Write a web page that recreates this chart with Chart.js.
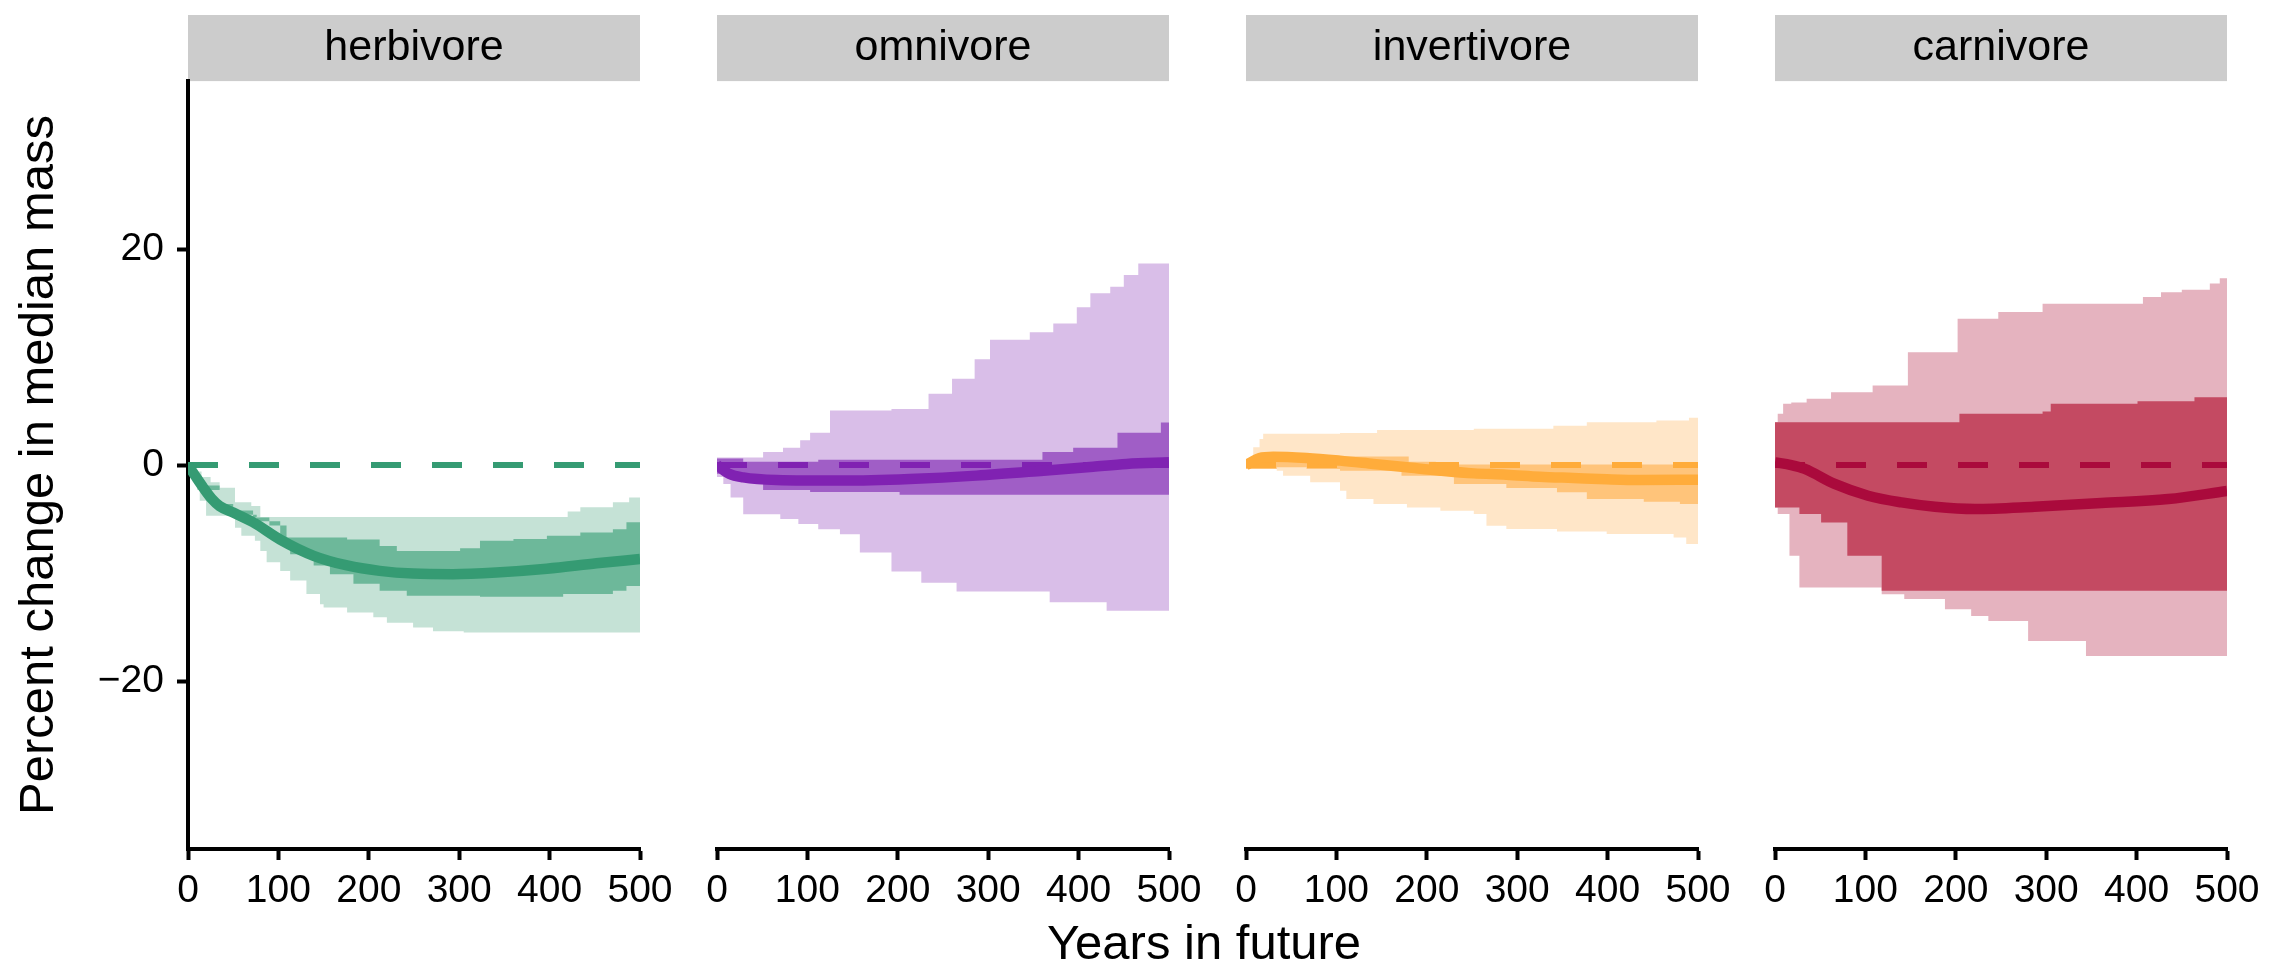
<!DOCTYPE html>
<html>
<head>
<meta charset="utf-8">
<script src="https://cdn.jsdelivr.net/npm/chart.js@4.4.1/dist/chart.umd.min.js"></script>
<style>
  body { margin: 0; background: #fff; }
  #wrap { position: relative; width: 2292px; height: 979px; overflow: hidden; background: #fff; }
  canvas { position: absolute; top: 0; }
  #xtitle { position: absolute; left: 704px; width: 1000px; top: 918px; text-align: center;
            font: 49px/48px 'Liberation Sans', Arial, sans-serif; color: #000; }
</style>
</head>
<body>
<div id="wrap">
  <canvas id="c0" width="676" height="979" style="left:0px"></canvas>
  <canvas id="c1" width="524" height="979" style="left:681px"></canvas>
  <canvas id="c2" width="524" height="979" style="left:1210px"></canvas>
  <canvas id="c3" width="524" height="979" style="left:1739px"></canvas>
  <div id="xtitle">Years in future</div>
</div>
<script>
// ---------------- data (years, percent change) ----------------
const panelNames = ['herbivore', 'omnivore', 'invertivore', 'carnivore'];
const xTicks = [0, 100, 200, 300, 400, 500];
const yTicks = [-20, 0, 20];
const zeroLine = [[0, 0], [500, 0]];

// herbivore
const herbMedian = [[0,0],[8,-1.0],[17,-2.1],[26,-3.1],[35,-3.8],[50,-4.4],[72,-5.3],[102,-6.9],[139,-8.4],[176,-9.3],[212,-9.8],[249,-10.05],[293,-10.1],[341,-9.95],[397,-9.6],[452,-9.1],[500,-8.7]];
const herbInnerUp = [[0,0],[17,-1.9],[35,-3.6],[50,-4.2],[72,-4.85],[90,-5.6],[109,-6.7],[176,-6.9],[212,-7.5],[231,-7.95],[301,-7.7],[323,-7.0],[360,-6.85],[397,-6.55],[434,-6.25],[470,-5.95],[485,-5.3],[500,-5.3]];
const herbInnerLo = [[0,0],[17,-2.3],[35,-4.0],[50,-4.6],[76,-5.2],[102,-7.0],[113,-8.25],[139,-9.3],[157,-10.1],[183,-11.0],[212,-11.65],[242,-12.1],[323,-12.2],[415,-11.95],[470,-11.65],[485,-11.2],[500,-11.2]];
const herbOuterUp = [[0,0],[8,-0.6],[15,-1.1],[25,-1.6],[35,-2.1],[52,-3.45],[70,-3.8],[80,-4.8],[412,-4.8],[420,-4.3],[434,-3.9],[470,-3.45],[488,-3.0],[500,-3.0]];
const herbOuterLo = [[0,0],[5,-1.2],[10,-2.3],[13,-3.3],[20,-4.7],[52,-5.8],[59,-6.55],[74,-7.0],[80,-7.95],[87,-9.0],[102,-9.8],[113,-10.7],[131,-11.95],[146,-12.9],[150,-13.2],[176,-13.65],[205,-14.1],[220,-14.6],[249,-15.05],[271,-15.4],[305,-15.5],[500,-15.5]];

// omnivore
const omniMedian = [[0,0],[14,-0.83],[29,-1.14],[66,-1.38],[140,-1.44],[213,-1.29],[287,-0.98],[361,-0.52],[416,-0.15],[453,0.1],[500,0.25]];
const omniInnerUp = [[0,0.6],[29,0.3],[112,0.5],[360,1.2],[394,1.6],[443,3.0],[491,3.95],[500,3.95]];
const omniInnerLo = [[0,-0.8],[15,-1.2],[29,-1.5],[51,-2.3],[103,-2.5],[202,-2.75],[500,-2.75]];
const omniOuterUp = [[0,0.7],[51,1.2],[73,1.6],[92,2.3],[103,3.0],[125,5.05],[193,5.2],[234,6.6],[260,8.0],[285,9.8],[302,11.6],[346,12.3],[372,13.1],[398,14.6],[413,15.9],[435,16.5],[450,17.6],[466,18.65],[500,18.65]];
const omniOuterLo = [[0,-1.1],[7,-1.75],[15,-3.0],[29,-4.55],[70,-5.0],[90,-5.45],[112,-5.95],[136,-6.4],[158,-8.1],[193,-9.85],[226,-10.9],[265,-11.7],[368,-12.7],[431,-13.5],[500,-13.5]];

// invertivore
const invMedian = [[0,0],[15,0.66],[30,0.78],[67,0.66],[104,0.41],[141,0.1],[178,-0.21],[215,-0.52],[252,-0.77],[288,-0.89],[325,-1.08],[362,-1.2],[399,-1.32],[436,-1.39],[500,-1.35]];
const invInnerUp = [[0,0.4],[30,0.9],[100,0.8],[180,0.3],[210,0.05],[500,0.0]];
const invInnerLo = [[0,-0.36],[34,-0.21],[67,-0.36],[104,-0.52],[172,-0.98],[230,-1.75],[288,-2.13],[344,-2.53],[377,-3.15],[440,-3.4],[480,-3.6],[500,-3.6]];
const invOuterUp = [[0,0.3],[8,1.64],[15,2.42],[19,2.9],[104,2.97],[145,3.25],[252,3.35],[340,3.65],[377,3.96],[454,4.12],[490,4.37],[500,4.37]];
const invOuterLo = [[0,-0.36],[34,-0.52],[41,-0.98],[71,-1.6],[104,-2.37],[111,-3.15],[141,-3.6],[178,-3.92],[215,-4.23],[252,-4.54],[266,-5.62],[288,-5.93],[344,-6.15],[399,-6.39],[473,-6.7],[487,-7.3],[500,-7.3]];

// carnivore
const carnMedian = [[0,0.25],[18,0.0],[33,-0.36],[66,-1.75],[103,-2.84],[140,-3.46],[177,-3.86],[221,-4.07],[287,-3.86],[361,-3.52],[435,-3.15],[500,-2.4]];
const carnInnerUp = [[0,3.96],[204,4.74],[296,4.95],[305,5.67],[401,5.91],[464,6.28],[500,6.28]];
const carnInnerLo = [[0,-3.92],[27,-4.54],[51,-5.31],[80,-8.4],[118,-11.65],[500,-11.65]];
const carnOuterUp = [[0,3.96],[3,4.74],[9,5.67],[18,5.8],[35,6.13],[62,6.74],[108,7.37],[147,10.45],[202,13.55],[247,14.17],[296,14.94],[407,15.56],[427,16.0],[450,16.24],[481,16.8],[492,17.3],[500,17.3]];
const carnOuterLo = [[0,-3.92],[3,-4.54],[16,-8.4],[27,-11.34],[118,-11.96],[143,-12.4],[188,-13.35],[217,-13.97],[236,-14.43],[280,-16.29],[344,-17.68],[500,-17.85]];

const medians = [herbMedian, omniMedian, invMedian, carnMedian];
const innerUps = [herbInnerUp, omniInnerUp, invInnerUp, carnInnerUp];
const innerLos = [herbInnerLo, omniInnerLo, invInnerLo, carnInnerLo];
const outerUps = [herbOuterUp, omniOuterUp, invOuterUp, carnOuterUp];
const outerLos = [herbOuterLo, omniOuterLo, invOuterLo, carnOuterLo];

// colours
const lineColors = ['#359B73', '#8022B2', '#FFAC3B', '#AA0A3C'];
const innerColors = ['#6DB89A', '#A05EC6', '#FFC47A', '#C44A62'];
const outerColors = ['#C5E2D6', '#D9BEE8', '#FFE6C8', '#E5B3BF'];

// ---------------- chart setup ----------------
Chart.defaults.font.family = "'Liberation Sans', Arial, Helvetica, sans-serif";
Chart.defaults.color = '#000';

const pts = arr => arr.map(p => ({ x: p[0], y: p[1] }));

// grey facet strip behind the title
const stripBg = {
  id: 'stripBg',
  beforeDraw(chart) {
    const { ctx, chartArea } = chart;
    ctx.save();
    ctx.fillStyle = '#CCCCCC';
    ctx.fillRect(chartArea.left, 15, chartArea.right - chartArea.left, chartArea.top - 15);
    ctx.restore();
  }
};

const axisGrid = { drawOnChartArea: false, drawTicks: true, tickLength: 11, tickWidth: 4, tickColor: '#000' };
const axisBorder = { display: true, color: '#000', width: 4 };

function band(data, color, fill) {
  return {
    data: pts(data), stepped: true, fill: fill ? '+1' : false,
    backgroundColor: color, borderColor: 'rgba(0,0,0,0)', borderWidth: 0, pointRadius: 0
  };
}

for (let i = 0; i < 4; i++) {
  const first = i === 0;
  new Chart(document.getElementById('c' + i), {
    type: 'line',
    data: {
      datasets: [
        { data: pts(medians[i]), borderColor: lineColors[i], borderWidth: 10.5, pointRadius: 0,
          cubicInterpolationMode: 'monotone', fill: false, borderCapStyle: 'butt' },
        { data: pts(zeroLine), borderColor: lineColors[i], borderWidth: 6, borderDash: [30, 31],
          pointRadius: 0, fill: false, borderCapStyle: 'butt' },
        band(innerUps[i], innerColors[i], true),
        band(innerLos[i], innerColors[i], false),
        band(outerUps[i], outerColors[i], true),
        band(outerLos[i], outerColors[i], false)
      ]
    },
    options: {
      responsive: false,
      animation: false,
      devicePixelRatio: 1,
      events: [],
      layout: { padding: { left: first ? 0 : 36, right: 36, top: 0, bottom: 0 } },
      plugins: {
        legend: { display: false },
        tooltip: { enabled: false },
        title: {
          display: true, text: panelNames[i], fullSize: false, color: '#000',
          font: { size: 43, weight: 'normal', lineHeight: 1.2 },
          padding: { top: 22, bottom: 7.5 }
        }
      },
      scales: {
        x: {
          type: 'linear', min: 0, max: 500,
          afterBuildTicks: s => { s.ticks = xTicks.map(v => ({ value: v })); },
          afterFit: s => { s.height = 130; s.paddingLeft = 0; s.paddingRight = 0; },
          ticks: { font: { size: 39 }, color: '#000', padding: 8, maxRotation: 0, autoSkip: false,
                   callback: v => String(v) },
          grid: axisGrid,
          border: axisBorder
        },
        y: {
          type: 'linear', min: -35.55, max: 35.55, display: first,
          afterBuildTicks: s => { s.ticks = yTicks.map(v => ({ value: v })); },
          afterFit: s => { s.width = first ? 188 : 0; s.paddingTop = 0; s.paddingBottom = 0; },
          ticks: { font: { size: 39 }, color: '#000', padding: 13,
                   callback: v => v < 0 ? '\u2212' + Math.abs(v) : String(v) },
          grid: axisGrid,
          border: axisBorder,
          title: { display: true, text: 'Percent change in median mass', color: '#000',
                   font: { size: 49 }, padding: { top: 10, bottom: 0 } }
        }
      }
    },
    plugins: [stripBg]
  });
}
</script>
</body>
</html>
